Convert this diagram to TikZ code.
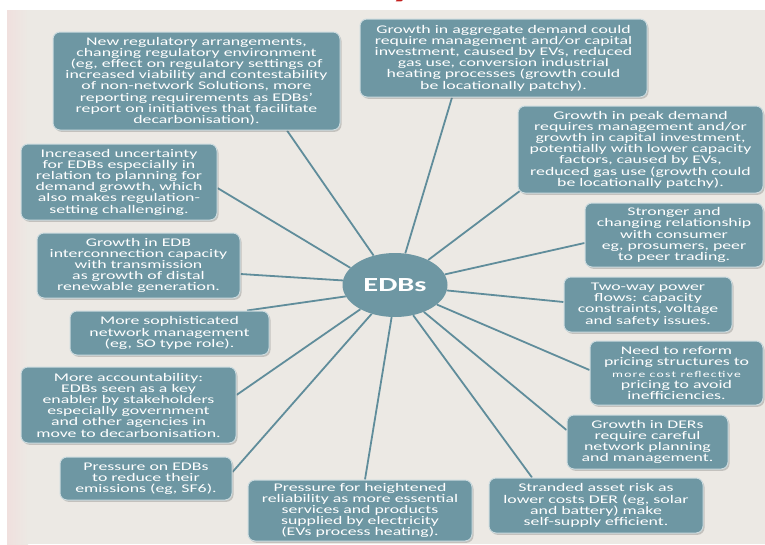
\documentclass[tikz,border=0pt]{standalone}
\usepackage{fontspec}
\setmainfont{Carlito}[FakeStretch=1.52]
\usetikzlibrary{shadows,shapes.geometric}
\definecolor{boxc}{RGB}{110,151,163}
\definecolor{linec}{RGB}{96,141,155}
\definecolor{bgc}{RGB}{236,233,228}
\definecolor{pinkc}{RGB}{240,224,222}
\definecolor{titlered}{RGB}{196,32,30}
\pgfdeclarelayer{bglayer}
\pgfdeclarelayer{linelayer}
\pgfsetlayers{bglayer,linelayer,main}
\tikzset{
  box/.style={draw=white!65!boxc, line width=1pt, fill=boxc, rounded corners=7pt,
    text=white, align=center, inner sep=2pt,
    font=\fontsize{11.7}{11.2}\selectfont,
    drop shadow={shadow xshift=1.5pt, shadow yshift=-1.8pt, opacity=0.3, fill=black!60}},
  hub/.style={ellipse, fill=boxc, text=white, inner sep=0pt,
    font=\fontsize{20}{20}\selectfont\bfseries},
  link/.style={draw=linec, line width=1.8pt}
}
\begin{document}
\begin{tikzpicture}[x=1pt,y=-1pt]
\useasboundingbox (0,0) rectangle (765,544);
\begin{pgfonlayer}{bglayer}
\fill[white] (0,0) rectangle (765,544);
\fill[bgc] (7,10) rectangle (765,544);
\shade[left color=pinkc, right color=bgc] (7,10) rectangle (28,544);
\begin{scope}
  \clip (0,0) rectangle (765,10);
  \node[text=titlered, font=\fontsize{34}{36}\selectfont\bfseries, inner sep=0pt, anchor=base] (ttl) at (403,-4) {y};
\end{scope}
\end{pgfonlayer}

\node[hub, minimum width=105pt, minimum height=64pt] (edb) at (395,285) {EDBs};

\node[box, minimum width=287pt, minimum height=98pt] (b1) at (196.5,81) {New regulatory arrangements,\\changing regulatory environment\\(eg, effect on regulatory settings of\\increased viability and contestability\\of non-network Solutions, more\\reporting requirements as EDBs’\\report on initiatives that facilitate\\decarbonisation).};
\node[box, minimum width=196pt, minimum height=76pt] (b2) at (119,182) {Increased uncertainty\\for EDBs especially in\\relation to planning for\\demand growth, which\\also makes regulation-\\setting challenging.};
\node[box, minimum width=203pt, minimum height=65pt] (b3) at (138.5,265.5) {Growth in EDB\\interconnection capacity\\with transmission\\as growth of distal\\renewable generation.};
\node[box, minimum width=199pt, minimum height=44pt] (b4) at (169.5,333) {More sophisticated\\network management\\(eg, SO type role).};
\node[box, minimum width=215pt, minimum height=76pt] (b5) at (128.5,405) {More accountability:\\EDBs seen as a key\\enabler by stakeholders\\especially government\\and other agencies in\\move to decarbonisation.};
\node[box, minimum width=172pt, minimum height=43pt] (b6) at (146,478.5) {Pressure on EDBs\\to reduce their\\emissions (eg, SF6).};
\node[box, minimum width=224pt, minimum height=61pt] (b7) at (360,510.5) {Pressure for heightened\\reliability as more essential\\services and products\\supplied by electricity\\(EVs process heating).};
\node[box, minimum width=214pt, minimum height=55pt] (b8) at (596,505.5) {Stranded asset risk as\\lower costs DER (eg, solar\\and battery) make\\self-supply efficient.};
\node[box, minimum width=161pt, minimum height=54pt] (b9) at (647.5,442) {Growth in DERs\\require careful\\network planning\\and management.};
\node[box, minimum width=173pt, minimum height=64pt] (b10) at (676.5,373) {Need to reform\\pricing structures to\\{\fontsize{9}{11.2}\selectfont\addfontfeatures{LetterSpace=14}more cost reflective}\\pricing to avoid\\inefficiencies.};
\node[box, minimum width=168pt, minimum height=55pt] (b11) at (648,304.5) {Two-way power\\flows: capacity\\constraints, voltage\\and safety issues.};
\node[box, minimum width=178pt, minimum height=64pt] (b12) at (674,235) {Stronger and\\changing relationship\\with consumer\\eg, prosumers, peer\\to peer trading.};
\node[box, minimum width=245pt, minimum height=87pt] (b13) at (640.5,149.5) {Growth in peak demand\\requires management and/or\\growth in capital investment,\\potentially with lower capacity\\factors, caused by EVs,\\reduced gas use (growth could\\be locationally patchy).};
\node[box, minimum width=287pt, minimum height=78pt] (b14) at (503.5,58) {Growth in aggregate demand could\\require management and/or capital\\investment, caused by EVs, reduced\\gas use, conversion industrial\\heating processes (growth could\\be locationally patchy).};

\begin{pgfonlayer}{linelayer}
\draw[link] (edb.126.6) -- ([xshift=90.5pt]b1.south);
\draw[link] (edb.159.3) -- ([yshift=-6pt]b2.east);
\draw[link] (edb.175.8) -- ([yshift=-8.5pt]b3.east);
\draw[link] (edb.193.5) -- ([xshift=77.5pt]b4.north);
\draw[link] (edb.215.5) -- ([yshift=10pt]b5.east);
\draw[link] (edb.231.6) -- ([yshift=6.5pt]b6.east);
\draw[link] (edb.264.8) -- ([xshift=5pt]b7.north);
\draw[link] (edb.301.5) -- ([xshift=-64pt]b8.north);
\draw[link] (edb.317) -- ([yshift=12pt]b9.west);
\draw[link] (edb.335) -- ([yshift=3pt]b10.west);
\draw[link] (edb.354.2) -- ([yshift=2.5pt]b11.west);
\draw[link] (edb.12.3) -- ([yshift=-8pt]b12.west);
\draw[link] (edb.37.6) -- ([shift={(3pt,3pt)}]b13.south west);
\draw[link] (edb.72.6) -- ([xshift=-51.5pt]b14.south);
\end{pgfonlayer}
\end{tikzpicture}
\end{document}
